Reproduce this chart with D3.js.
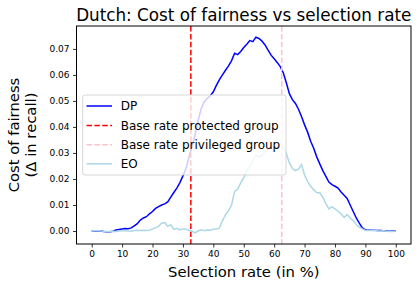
<!DOCTYPE html>
<html>
<head>
<meta charset="utf-8">
<title>Dutch: Cost of fairness vs selection rate</title>
<style>
  html, body { margin: 0; padding: 0; background: #fff; }
  svg { display: block; }
  text { font-family: "DejaVu Sans", sans-serif; fill: #000; }
  .tick text { font-size: 9px; }
</style>
</head>
<body>
<svg id="chart" width="420" height="287"></svg>
<script src="https://cdn.jsdelivr.net/npm/d3@7"></script>
<script>
// selection rate in %
var rates = [0,1,2,3,4,5,6,7,8,9,10,11,12,13,14,15,16,17,18,19,20,
  21,22,23,24,25,26,27,28,29,30,31,32,33,34,35,36,37,38,39,40,
  41,42,43,44,45,46,47,48,49,50,51,52,53,54,55,56,57,58,59,60,
  61,62,63,64,65,66,67,68,69,70,71,72,73,74,75,76,77,78,79,80,
  81,82,83,84,85,86,87,88,89,90,91,92,93,94,95,96,97,98,99,100];

// cost of fairness, demographic parity
var dp = [0.0000,0.0000,0.0001,0.0000,-0.0002,-0.0003,-0.0003,-0.0001,0.0004,0.0006,0.0008,
  0.0010,0.0009,0.0012,0.0020,0.0028,0.0042,0.0050,0.0055,0.0066,0.0075,
  0.0087,0.0094,0.0100,0.0104,0.0112,0.0130,0.0148,0.0165,0.0186,0.0212,
  0.0240,0.0285,0.0325,0.0370,0.0425,0.0470,0.0496,0.0510,0.0520,0.0535,
  0.0560,0.0582,0.0600,0.0618,0.0635,0.0655,0.0683,0.0678,0.0690,0.0705,
  0.0718,0.0732,0.0728,0.0745,0.0740,0.0730,0.0715,0.0695,0.0676,0.0662,
  0.0648,0.0632,0.0608,0.0570,0.0528,0.0505,0.0490,0.0468,0.0440,0.0408,
  0.0380,0.0345,0.0318,0.0285,0.0258,0.0232,0.0210,0.0188,0.0178,0.0172,
  0.0165,0.0150,0.0137,0.0125,0.0100,0.0075,0.0050,0.0030,0.0012,0.0004,
  0.0004,0.0003,0.0003,0.0002,0.0002,0.0001,0.0000,-0.0001,0.0000,0.0000];

// cost of fairness, equal opportunity
var eo = [0.0000,0.0001,0.0002,0.0000,-0.0001,-0.0002,-0.0002,-0.0001,-0.0002,0.0000,0.0002,
  0.0001,0.0000,-0.0001,0.0002,0.0003,0.0002,0.0003,0.0002,0.0003,0.0008,
  0.0012,0.0018,0.0030,0.0032,0.0018,0.0024,0.0006,0.0010,0.0004,0.0008,
  0.0007,0.0003,0.0000,-0.0007,0.0000,0.0005,0.0001,0.0004,0.0003,0.0007,
  0.0008,0.0011,0.0040,0.0062,0.0078,0.0100,0.0152,0.0160,0.0185,0.0205,
  0.0230,0.0250,0.0270,0.0293,0.0285,0.0290,0.0305,0.0315,0.0330,0.0322,
  0.0320,0.0338,0.0320,0.0298,0.0262,0.0240,0.0232,0.0238,0.0255,0.0215,
  0.0190,0.0172,0.0158,0.0148,0.0146,0.0130,0.0105,0.0085,0.0093,0.0085,
  0.0076,0.0066,0.0052,0.0063,0.0050,0.0040,0.0025,0.0015,0.0008,0.0002,
  0.0003,0.0002,0.0003,0.0001,0.0000,0.0001,-0.0001,-0.0002,-0.0002,-0.0001];

var baseProtected = 32.6;
var basePrivileged = 62.5;

var xTicks = [0,10,20,30,40,50,60,70,80,90,100];
var yTicks = [0.00,0.01,0.02,0.03,0.04,0.05,0.06,0.07];

var plotL = 76.5, plotR = 411, plotT = 26, plotB = 244;

var svg = d3.select("#chart");

var x = d3.scaleLinear().domain([-5, 105]).range([plotL, plotR]);
var y = d3.scaleLinear().domain([-0.005, 0.0788]).range([plotB, plotT]);

// axes
var xAxis = svg.append("g")
    .attr("transform", "translate(0," + plotB + ")")
    .call(d3.axisBottom(x).tickValues(xTicks).tickSize(3.5).tickPadding(3.5).tickFormat(d3.format("d")));
var yAxis = svg.append("g")
    .attr("transform", "translate(" + plotL + ",0)")
    .call(d3.axisLeft(y).tickValues(yTicks).tickSize(3.5).tickPadding(3.5).tickFormat(d3.format(".2f")));
[xAxis, yAxis].forEach(function(a) {
    a.select(".domain").remove();
    a.selectAll(".tick line").attr("stroke", "#000").attr("stroke-width", 0.8);
    a.selectAll(".tick text").attr("font-family", null).attr("font-size", null);
});

var line = d3.line()
    .x(function(d, i) { return x(rates[i]); })
    .y(function(d) { return y(d); });

svg.append("path").datum(dp)
    .attr("d", line)
    .attr("fill", "none")
    .attr("stroke", "blue")
    .attr("stroke-width", 1.5);

svg.append("line")
    .attr("x1", x(baseProtected)).attr("x2", x(baseProtected))
    .attr("y1", plotT).attr("y2", plotB)
    .attr("stroke", "red").attr("stroke-width", 1.5)
    .attr("stroke-dasharray", "5.5,2.4");

svg.append("line")
    .attr("x1", x(basePrivileged)).attr("x2", x(basePrivileged))
    .attr("y1", plotT).attr("y2", plotB)
    .attr("stroke", "pink").attr("stroke-width", 1.5)
    .attr("stroke-dasharray", "5.5,2.4");

svg.append("path").datum(eo)
    .attr("d", line)
    .attr("fill", "none")
    .attr("stroke", "lightblue")
    .attr("stroke-width", 1.5);

// frame
svg.append("rect")
    .attr("x", plotL).attr("y", plotT)
    .attr("width", plotR - plotL).attr("height", plotB - plotT)
    .attr("fill", "none").attr("stroke", "#000").attr("stroke-width", 1);

// legend
var legendItems = [
    {label: "DP", color: "blue", dash: null},
    {label: "Base rate protected group", color: "red", dash: "5.5,2.4"},
    {label: "Base rate privileged group", color: "pink", dash: "5.5,2.4"},
    {label: "EO", color: "lightblue", dash: null}
];
var legend = svg.append("g");
legend.append("rect")
    .attr("x", 82.7).attr("y", 95)
    .attr("width", 203.3).attr("height", 80)
    .attr("rx", 2.5).attr("ry", 2.5)
    .attr("fill", "#fff").attr("fill-opacity", 0.8)
    .attr("stroke", "#ccc").attr("stroke-opacity", 0.8).attr("stroke-width", 1);
var rowY = [106, 125.5, 144.8, 163.8];
legendItems.forEach(function(d, i) {
    legend.append("line")
        .attr("x1", 86.5).attr("x2", 112)
        .attr("y1", rowY[i]).attr("y2", rowY[i])
        .attr("stroke", d.color).attr("stroke-width", 1.5)
        .attr("stroke-dasharray", d.dash);
    legend.append("text")
        .attr("x", 120.7).attr("y", rowY[i] + 4.3)
        .attr("font-size", "12px")
        .text(d.label);
});

// title and axis labels
svg.append("text")
    .attr("x", (plotL + plotR) / 2).attr("y", 21)
    .attr("text-anchor", "middle")
    .attr("font-size", "16.8px")
    .text("Dutch: Cost of fairness vs selection rate");

svg.append("text")
    .attr("x", (plotL + plotR) / 2).attr("y", 277)
    .attr("text-anchor", "middle")
    .attr("font-size", "14.8px")
    .text("Selection rate (in %)");

var yl = svg.append("text")
    .attr("transform", "translate(0," + (plotT + plotB) / 2 + ") rotate(-90)")
    .attr("text-anchor", "middle")
    .attr("font-size", "14.8px");
yl.append("tspan").attr("x", 0).attr("y", 19).text("Cost of fairness");
yl.append("tspan").attr("x", 0).attr("y", 36).text("(Δ in recall)");
</script>
</body>
</html>
